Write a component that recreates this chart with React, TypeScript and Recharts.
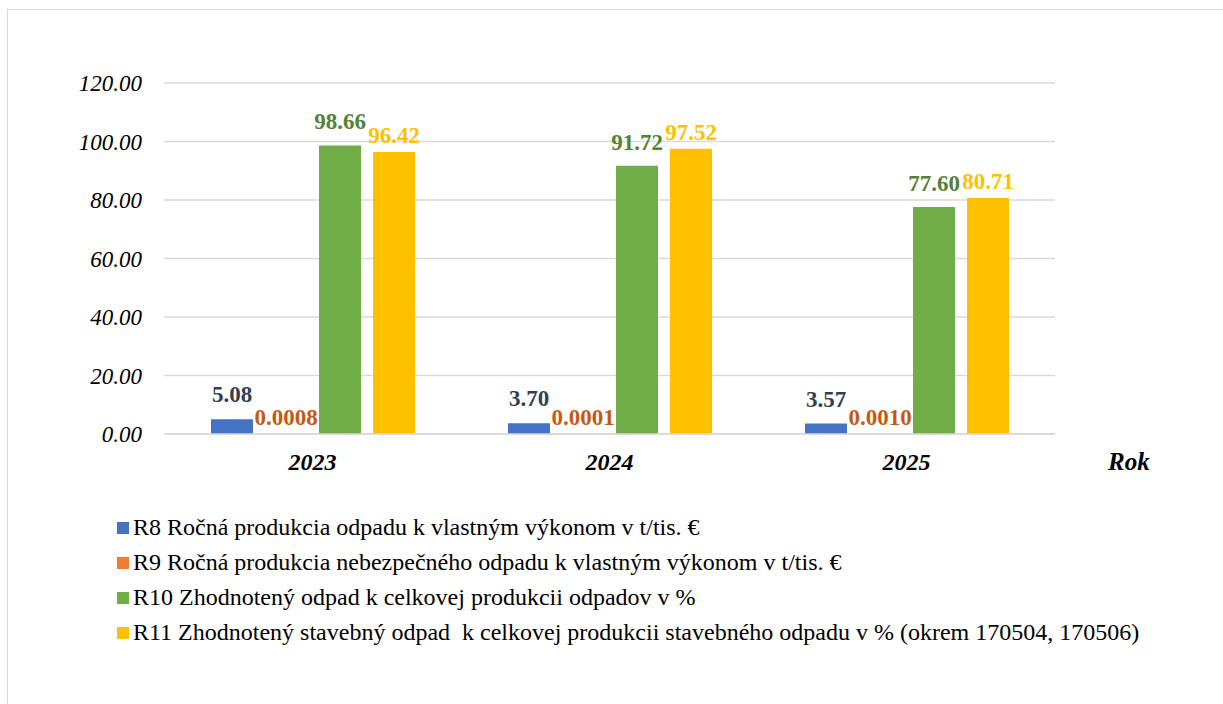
import React from 'react';
import { BarChart, Bar, XAxis, YAxis, CartesianGrid, LabelList, Legend } from 'recharts';

const years = ['2023', '2024', '2025'];
const r8 = [5.08, 3.70, 3.57];
const r9 = [0.0008, 0.0001, 0.0010];
const r10 = [98.66, 91.72, 77.60];
const r11 = [96.42, 97.52, 80.71];
const yTicks = [0, 20, 40, 60, 80, 100, 120];

const seriesNames = [
  'R8 Ročná produkcia odpadu k vlastným výkonom v t/tis. €',
  'R9 Ročná produkcia nebezpečného odpadu k vlastným výkonom v t/tis. €',
  'R10 Zhodnotený odpad k celkovej produkcii odpadov v %',
  'R11 Zhodnotený stavebný odpad  k celkovej produkcii stavebného odpadu v % (okrem 170504, 170506)',
];
const barColors = ['#4472C4', '#ED7D31', '#70AD47', '#FFC000'];
const labelColors = ['#333F50', '#C55A11', '#548235', '#FFC000'];

const data = years.map((y, i) => ({ year: y, r8: r8[i], r9: r9[i], r10: r10[i], r11: r11[i] }));

const FONT = '"Liberation Serif", "Times New Roman", serif';

const LegendContent = () => (
  <div style={{ paddingTop: 22, fontFamily: FONT, fontSize: 24, color: '#000', whiteSpace: 'pre' }}>
    {seriesNames.map((n, i) => (
      <div key={n} style={{ height: 35, display: 'flex', alignItems: 'center' }}>
        <span style={{ display: 'inline-block', width: 12, height: 12, background: barColors[i], marginRight: 4 }} />
        <span>{n}</span>
      </div>
    ))}
  </div>
);

export default function App() {
  const keys = ['r8', 'r9', 'r10', 'r11'];
  const offsets = [17, 9, 16, 9];
  const digits = [2, 4, 2, 2];
  return (
    <div style={{ position: 'absolute', left: 0, top: 0, width: 1223, height: 704, overflow: 'hidden', background: '#fff', fontFamily: FONT }}>
      <div style={{ position: 'absolute', left: 7, top: 9, width: 1300, height: 800, border: '1.5px solid #D9D9D9', boxSizing: 'border-box' }} />
      <div style={{ position: 'absolute', left: 0, top: 0 }}>
        <BarChart
          width={1223}
          height={704}
          data={data}
          margin={{ top: 83, right: 168, bottom: 54, left: 0 }}
          barCategoryGap={47}
          barGap={12}
        >
          <CartesianGrid vertical={false} stroke="#D9D9D9" strokeWidth={1.5} />
          <XAxis
            dataKey="year"
            height={54}
            axisLine={{ stroke: '#D9D9D9', strokeWidth: 1.5 }}
            tickLine={false}
            tickMargin={13}
            tick={{ fill: '#000', fontSize: 24, fontWeight: 'bold', fontStyle: 'italic', fontFamily: FONT }}
            label={{ value: 'Rok', position: 'right', offset: 53, fill: '#000', fontSize: 25, fontWeight: 'bold', fontStyle: 'italic', fontFamily: FONT }}
          />
          <YAxis
            width={164}
            domain={[0, 120]}
            ticks={yTicks}
            axisLine={false}
            tickLine={false}
            tickMargin={16}
            tickFormatter={(v: number) => v.toFixed(2)}
            tick={{ fill: '#000', fontSize: 23, fontStyle: 'italic', fontFamily: FONT }}
          />
          {keys.map((k, i) => (
            <Bar key={k} dataKey={k} name={seriesNames[i]} fill={barColors[i]} isAnimationActive={false}>
              <LabelList
                dataKey={k}
                position="top"
                offset={offsets[i]}
                formatter={(v: number) => Number(v).toFixed(digits[i])}
                fill={labelColors[i]}
                fontSize={23}
                fontWeight="bold"
                fontFamily={FONT}
              />
            </Bar>
          ))}
          <Legend
            layout="horizontal"
            verticalAlign="bottom"
            align="left"
            content={<LegendContent />}
            wrapperStyle={{ left: 117, width: 1100 }}
          />
        </BarChart>
      </div>
    </div>
  );
}
